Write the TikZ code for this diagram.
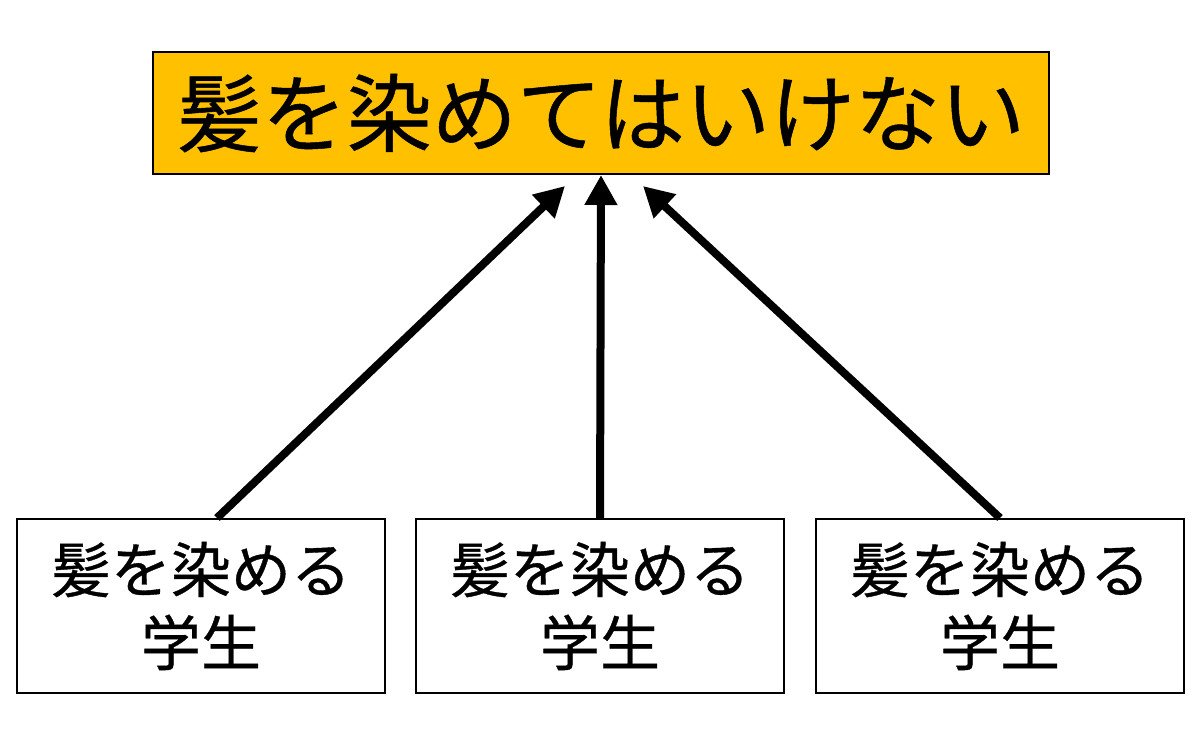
\documentclass[tikz,border=0pt]{standalone}
\usepackage{fontspec}
\newfontfamily\jpfont[FakeBold=0.6]{Noto Sans CJK JP}
\usetikzlibrary{arrows.meta}
\definecolor{ruleorange}{HTML}{FFC000}

\tikzstyle{claim}=[draw, line width=1pt, fill=ruleorange, inner sep=0pt, minimum width=448pt, minimum height=61pt, font=\jpfont\fontsize{42.5}{50}\selectfont]
\tikzstyle{student}=[draw, line width=1pt, fill=white, inner sep=0pt, minimum width=184pt, minimum height=87pt, align=center, font=\jpfont\fontsize{30}{36.5}\selectfont]
\tikzstyle{support}=[line width=4pt, -{Triangle[length=15pt, width=15.5pt]}]

\begin{document}
\begin{tikzpicture}[x=0.5pt,y=-0.5pt]
            \useasboundingbox (0,0) rectangle (1200,745);
            \node[claim] at (601,113) (R) {髪を染めてはいけない};
            \node[student] at (201,606) (S1) {髪を染める\\学生};
            \node[student] at (600,606) (S2) {髪を染める\\学生};
            \node[student] at (1000,606) (S3) {髪を染める\\学生};
            \coordinate (T1) at (565,186);
            \coordinate (T2) at (601,175);
            \coordinate (T3) at (643,186);
            \draw[support] ([xshift=8pt]S1.north) -- (T1);
            \draw[support] (S2.north) -- (T2);
            \draw[support] (S3.north) -- (T3);
        \end{tikzpicture}
\end{document}
